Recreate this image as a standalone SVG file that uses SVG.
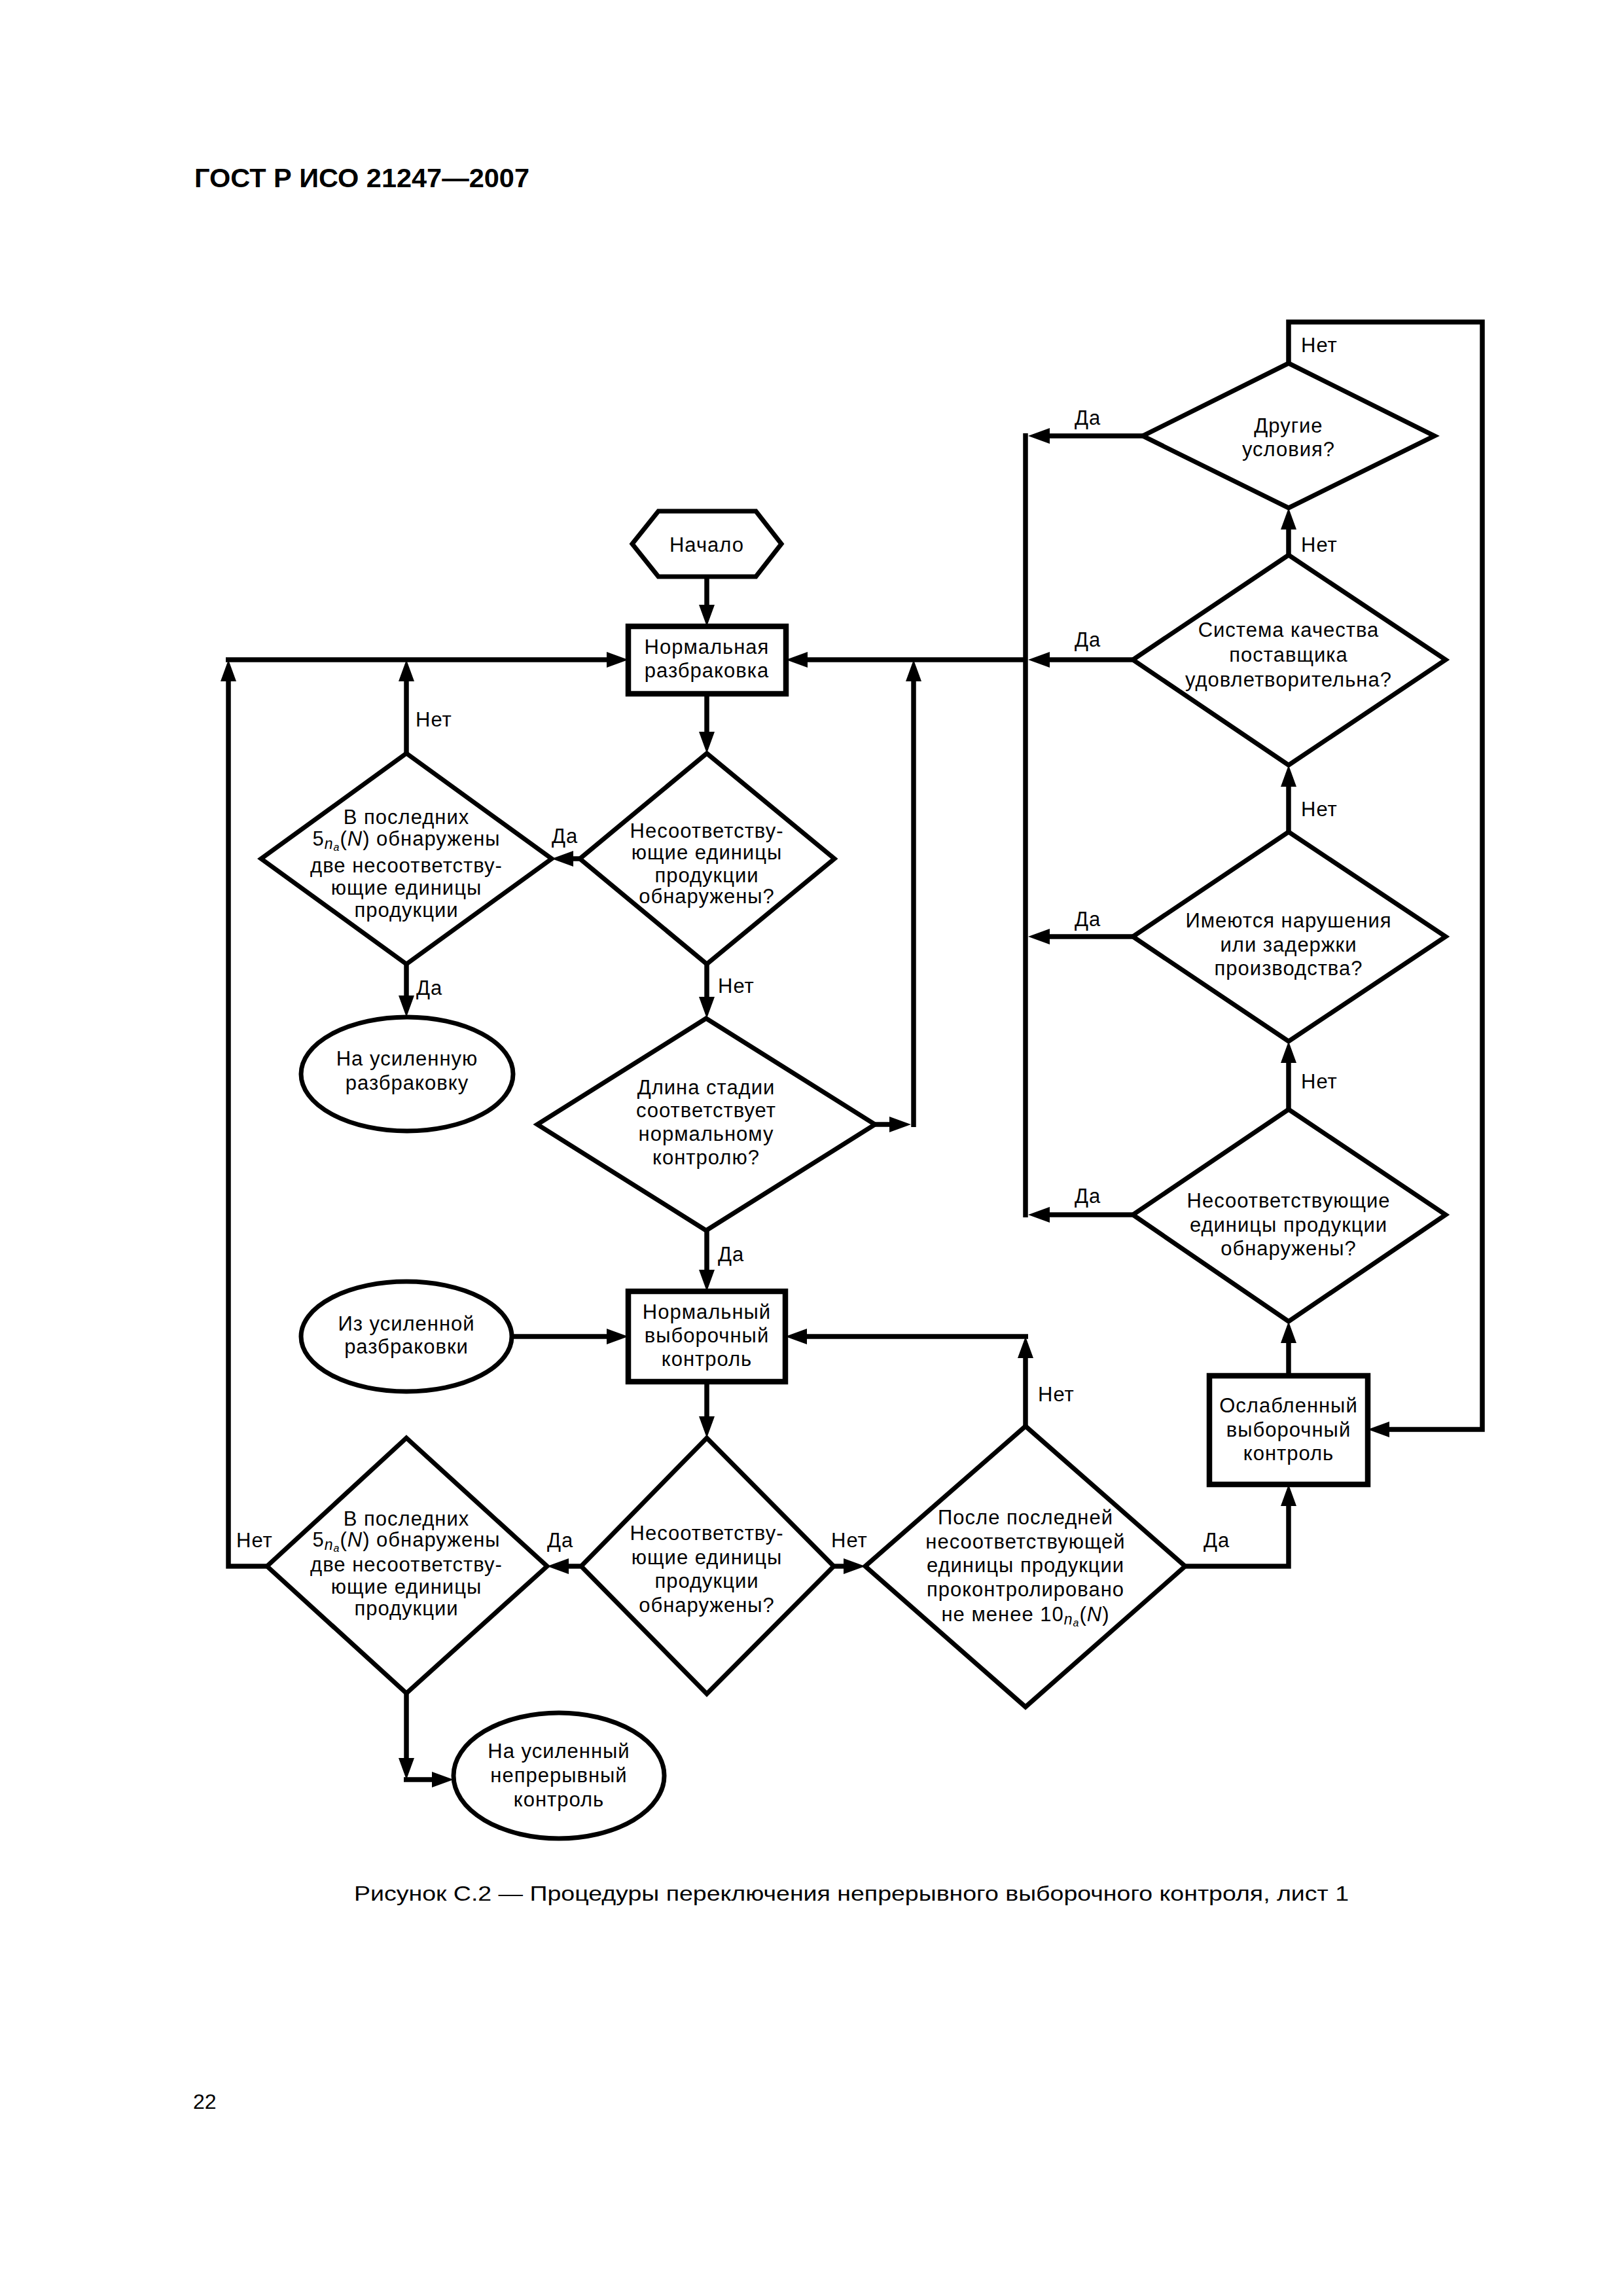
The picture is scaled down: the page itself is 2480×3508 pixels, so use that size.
<svg xmlns="http://www.w3.org/2000/svg" width="2480" height="3508" viewBox="0 0 2480 3508">
<defs>
<marker id="ah" markerUnits="userSpaceOnUse" markerWidth="34" markerHeight="26" refX="13" refY="12" orient="auto" overflow="visible">
<path d="M0,0 L33,12 L0,24 z" fill="#000"/>
</marker>
</defs>
<style>
.bg{fill:#fff}
.sh{fill:#fff;stroke:#000;stroke-width:7;stroke-linejoin:miter}
.bx{fill:#fff;stroke:#000;stroke-width:8.5}
.ln{fill:none;stroke:#000;stroke-width:7.5;stroke-linejoin:miter}
.ar{fill:none;stroke:#000;stroke-width:7.5;marker-end:url(#ah)}
.t{font-family:"Liberation Sans",Arial,sans-serif;font-size:31px;letter-spacing:1px;text-anchor:middle;fill:#000}
.l{font-family:"Liberation Sans",Arial,sans-serif;font-size:31px;letter-spacing:1px;fill:#000}
.i{font-style:italic}
.title{font-family:"Liberation Sans",Arial,sans-serif;font-size:41px;font-weight:bold;fill:#000}
.cap{font-family:"Liberation Sans",Arial,sans-serif;font-size:32px;fill:#000}
</style>
<rect class="bg" x="0" y="0" width="2480" height="3508"/>
<text class="title" x="297" y="286" textLength="512" lengthAdjust="spacingAndGlyphs">ГОСТ Р ИСО 21247—2007</text>

<g id="connectors">
<path class="ar" d="M1080,881 V937"/>
<path class="ar" d="M1080,1060 V1131"/>
<path class="ar" d="M886,1312 H863"/>
<path class="ar" d="M621,1151 V1028"/>
<path class="ar" d="M621,1473 V1534"/>
<path class="ar" d="M1080,1473 V1536"/>
<path class="ar" d="M1337,1718 H1372"/>
<path class="ar" d="M1396,1722 V1028"/>
<path class="ar" d="M345,1008 H940"/>
<path class="ar" d="M1731,1008 H1591"/>
<path class="ar" d="M1567,1008 H1221"/>
<path class="ar" d="M1080,1880 V1953"/>
<path class="ar" d="M782,2042 H940"/>
<path class="ar" d="M1080,2111 V2177"/>
<path class="ar" d="M888,2393 H856"/>
<path class="ar" d="M1274,2393 H1302"/>
<path class="ar" d="M1567,2179 V2062"/>
<path class="ar" d="M1571,2042 H1220"/>
<path class="ar" d="M1811,2393 H1969 V2288"/>
<path class="ar" d="M1969,2102 V2039"/>
<path class="ar" d="M1969,1695 V1611"/>
<path class="ar" d="M1969,1271 V1189"/>
<path class="ar" d="M1969,848 V796"/>
<path class="ar" d="M1969,555 V492 H2265 V2184 H2110"/>
<path class="ar" d="M1746,666 H1591"/>
<path class="ar" d="M1731,1431 H1591"/>
<path class="ar" d="M1731,1856 H1591"/>
<path class="ln" d="M1567,662 V1860"/>
<path class="ar" d="M408,2393 H349 V1028"/>
<path class="ar" d="M621,2587 V2699"/>
<path class="ar" d="M617,2719 H673"/>
<text class="l" x="1988" y="538">Нет</text>
<text class="l" x="1642" y="649">Да</text>
<text class="l" x="1988" y="843">Нет</text>
<text class="l" x="1642" y="988">Да</text>
<text class="l" x="635" y="1110">Нет</text>
<text class="l" x="1988" y="1247">Нет</text>
<text class="l" x="843" y="1288">Да</text>
<text class="l" x="1642" y="1415">Да</text>
<text class="l" x="1097" y="1517">Нет</text>
<text class="l" x="636" y="1520">Да</text>
<text class="l" x="1988" y="1663">Нет</text>
<text class="l" x="1642" y="1838">Да</text>
<text class="l" x="1097" y="1927">Да</text>
<text class="l" x="1586" y="2141">Нет</text>
<text class="l" x="361" y="2364">Нет</text>
<text class="l" x="836" y="2364">Да</text>
<text class="l" x="1270" y="2364">Нет</text>
<text class="l" x="1839" y="2364">Да</text>
</g>

<g id="start">
<polygon class="sh" points="966,831 1006,781 1155,781 1194,831 1155,881 1006,881"/>
<text class="t" x="1080" y="843">Начало</text>
</g>

<g id="normal-screening">
<rect class="bx" x="960" y="957" width="241" height="103"/>
<text class="t" x="1080" y="999">Нормальная</text>
<text class="t" x="1080" y="1035">разбраковка</text>
</g>

<g id="d1-nonconforming">
<polygon class="sh" points="1080,1151 1275,1312 1080,1473 886,1312"/>
<text class="t" x="1080" y="1280">Несоответству-</text>
<text class="t" x="1080" y="1313">ющие единицы</text>
<text class="t" x="1080" y="1348">продукции</text>
<text class="t" x="1080" y="1380">обнаружены?</text>
</g>

<g id="d2-last5">
<polygon class="sh" points="621,1151 843,1312 621,1473 399,1312"/>
<text class="t" x="621" y="1259">В последних</text>
<text class="t" x="621" y="1292">5<tspan class="i" font-size="23" dy="5">n</tspan><tspan class="i" font-size="16" dy="3">a</tspan><tspan dy="-8">(</tspan><tspan class="i">N</tspan>) обнаружены</text>
<text class="t" x="621" y="1333">две несоответству-</text>
<text class="t" x="621" y="1367">ющие единицы</text>
<text class="t" x="621" y="1401">продукции</text>
</g>

<g id="to-tightened-screening">
<ellipse class="sh" cx="622" cy="1641" rx="162" ry="87"/>
<text class="t" x="622" y="1628">На усиленную</text>
<text class="t" x="622" y="1665">разбраковку</text>
</g>

<g id="d3-stage-length">
<polygon class="sh" points="1079,1556 1337,1718 1079,1880 821,1718"/>
<text class="t" x="1079" y="1672">Длина стадии</text>
<text class="t" x="1079" y="1707">соответствует</text>
<text class="t" x="1079" y="1743">нормальному</text>
<text class="t" x="1079" y="1779">контролю?</text>
</g>

<g id="from-tightened-screening">
<ellipse class="sh" cx="621" cy="2042" rx="161" ry="84"/>
<text class="t" x="621" y="2033">Из усиленной</text>
<text class="t" x="621" y="2068">разбраковки</text>
</g>

<g id="normal-sampling">
<rect class="bx" x="960" y="1973" width="240" height="138"/>
<text class="t" x="1080" y="2015">Нормальный</text>
<text class="t" x="1080" y="2051">выборочный</text>
<text class="t" x="1080" y="2087">контроль</text>
</g>

<g id="d4-nonconforming">
<polygon class="sh" points="1080,2197 1274,2393 1080,2588 888,2393"/>
<text class="t" x="1080" y="2353">Несоответству-</text>
<text class="t" x="1080" y="2390">ющие единицы</text>
<text class="t" x="1080" y="2426">продукции</text>
<text class="t" x="1080" y="2463">обнаружены?</text>
</g>

<g id="d6-last5">
<polygon class="sh" points="621,2197 836,2393 621,2587 408,2393"/>
<text class="t" x="621" y="2331">В последних</text>
<text class="t" x="621" y="2363">5<tspan class="i" font-size="23" dy="5">n</tspan><tspan class="i" font-size="16" dy="3">a</tspan><tspan dy="-8">(</tspan><tspan class="i">N</tspan>) обнаружены</text>
<text class="t" x="621" y="2401">две несоответству-</text>
<text class="t" x="621" y="2435">ющие единицы</text>
<text class="t" x="621" y="2468">продукции</text>
</g>

<g id="to-tightened-continuous">
<ellipse class="sh" cx="854" cy="2713" rx="161" ry="96"/>
<text class="t" x="854" y="2686">На усиленный</text>
<text class="t" x="854" y="2723">непрерывный</text>
<text class="t" x="854" y="2760">контроль</text>
</g>

<g id="d5-after-last">
<polygon class="sh" points="1567,2179 1811,2393 1567,2608 1322,2393"/>
<text class="t" x="1567" y="2329">После последней</text>
<text class="t" x="1567" y="2366">несоответствующей</text>
<text class="t" x="1567" y="2402">единицы продукции</text>
<text class="t" x="1567" y="2439">проконтролировано</text>
<text class="t" x="1567" y="2477">не менее 10<tspan class="i" font-size="23" dy="5">n</tspan><tspan class="i" font-size="16" dy="3">a</tspan><tspan dy="-8">(</tspan><tspan class="i">N</tspan>)</text>
</g>

<g id="reduced-sampling">
<rect class="bx" x="1848" y="2102" width="242" height="166"/>
<text class="t" x="1969" y="2158">Ослабленный</text>
<text class="t" x="1969" y="2195">выборочный</text>
<text class="t" x="1969" y="2231">контроль</text>
</g>

<g id="d7-nonconforming">
<polygon class="sh" points="1969,1695 2209,1856 1969,2019 1731,1856"/>
<text class="t" x="1969" y="1845">Несоответствующие</text>
<text class="t" x="1969" y="1882">единицы продукции</text>
<text class="t" x="1969" y="1918">обнаружены?</text>
</g>

<g id="d8-disruptions">
<polygon class="sh" points="1969,1271 2209,1431 1969,1591 1731,1431"/>
<text class="t" x="1969" y="1417">Имеются нарушения</text>
<text class="t" x="1969" y="1454">или задержки</text>
<text class="t" x="1969" y="1490">производства?</text>
</g>

<g id="d9-quality-system">
<polygon class="sh" points="1969,848 2209,1008 1969,1169 1731,1008"/>
<text class="t" x="1969" y="973">Система качества</text>
<text class="t" x="1969" y="1011">поставщика</text>
<text class="t" x="1969" y="1049">удовлетворительна?</text>
</g>

<g id="d10-other">
<polygon class="sh" points="1969,555 2192,666 1969,776 1746,666"/>
<text class="t" x="1969" y="661">Другие</text>
<text class="t" x="1969" y="697">условия?</text>
</g>

<text class="cap" x="541" y="2904" textLength="1520" lengthAdjust="spacingAndGlyphs">Рисунок С.2 — Процедуры переключения непрерывного выборочного контроля, лист 1</text>
<text class="cap" x="295" y="3222" font-size="38">22</text>
</svg>
